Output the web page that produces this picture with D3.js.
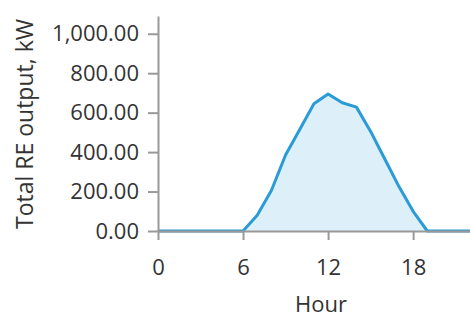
<!DOCTYPE html>
<html>
<head>
<meta charset="utf-8">
<script src="https://cdn.jsdelivr.net/npm/d3@7"></script>
<style>
	body { margin: 0; background: #fff; }
	text { font-family: "Open Sans", "Noto Sans", sans-serif; fill: #333; }
</style>
</head>
<body>
<div id="chart"></div>
<script>
// hourly output
var hours = d3.range(0, 24);
var output = [0, 0, 0, 0, 0, 0, 0, 80, 205, 385, 515, 645, 695, 650, 628, 505, 365, 225, 100, 0, 0, 0, 0, 0];
var xTicks = [0, 6, 12, 18];
var yTicks = [0, 200, 400, 600, 800, 1000];

var data = hours.map((h, i) => ({hour: h, value: output[i]}));

var svg = d3.select("#chart")
	.append("svg")
	.attr("width", 470)
	.attr("height", 318);

var x = d3.scaleLinear()
	.domain([0, 23])
	.range([158, 484]);

var y = d3.scaleLinear()
	.domain([0, 1090])
	.range([231, 16]);

var area = d3.area()
	.x(d => x(d.hour))
	.y0(y(0))
	.y1(d => y(d.value));

var line = d3.line()
	.x(d => x(d.hour))
	.y(d => y(d.value));

svg.append("path")
	.datum(data)
	.attr("d", area)
	.attr("fill", "#ddf0f9");

svg.append("path")
	.datum(data)
	.attr("d", line)
	.attr("fill", "none")
	.attr("stroke", "#2a9bd7")
	.attr("stroke-width", 3)
	.attr("stroke-linejoin", "round");

// axes
var yAxis = svg.append("g")
	.attr("transform", "translate(158,0)")
	.call(d3.axisLeft(y)
		.tickValues(yTicks)
		.tickFormat(d3.format(",.2f"))
		.tickSize(10)
		.tickSizeOuter(0)
		.tickPadding(9));

var xAxis = svg.append("g")
	.attr("transform", "translate(0,231)")
	.call(d3.axisBottom(x)
		.tickValues(xTicks)
		.tickSize(9)
		.tickSizeOuter(0)
		.tickPadding(19));

svg.selectAll(".domain, .tick line")
	.attr("stroke", "#999")
	.attr("stroke-width", 2);

svg.selectAll(".tick text")
	.style("font-size", "22px")
	.attr("fill", "#333");

svg.append("text")
	.attr("x", 321)
	.attr("y", 312)
	.style("font-size", "22px")
	.style("text-anchor", "middle")
	.text("Hour");

svg.append("text")
	.attr("transform", "translate(33,124) rotate(-90)")
	.style("font-size", "23px")
	.style("text-anchor", "middle")
	.text("Total RE output, kW");
</script>
</body>
</html>
